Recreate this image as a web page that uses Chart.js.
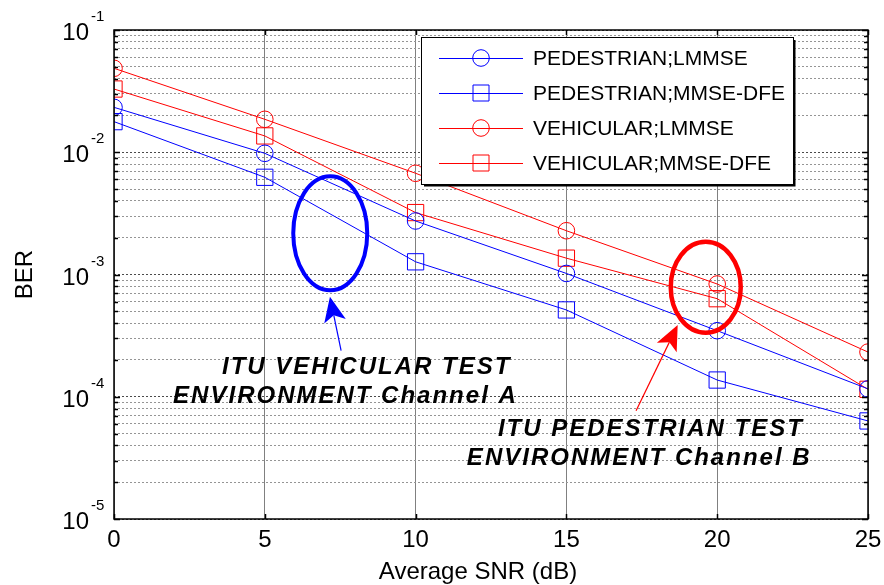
<!DOCTYPE html>
<html>
<head>
<meta charset="utf-8">
<script src="https://cdn.jsdelivr.net/npm/chart.js@4/dist/chart.umd.min.js"></script>
<style>
  html, body { margin: 0; padding: 0; background: #ffffff; }
  #wrap { width: 884px; height: 585px; position: relative; }
</style>
</head>
<body>
<div id="wrap"><canvas id="c" width="884" height="585"></canvas></div>
<script>
// ---- data ----
const snr = [0, 5, 10, 15, 20, 25];
const pedLmmse   = [0.0233, 0.0098, 0.00274, 0.00102, 0.000347, 0.000116];
const pedMmseDfe = [0.0178, 0.00624, 0.00127, 0.000513, 0.000137, 0.0000634];
const vehLmmse   = [0.0486, 0.0186, 0.00673, 0.00228, 0.000836, 0.000232];
const vehMmseDfe = [0.0329, 0.0136, 0.00321, 0.00136, 0.000634, 0.000115];
const seriesNames = ['PEDESTRIAN;LMMSE', 'PEDESTRIAN;MMSE-DFE', 'VEHICULAR;LMMSE', 'VEHICULAR;MMSE-DFE'];
const xTicks = [0, 5, 10, 15, 20, 25];
const yDecadeExps = [-5, -4, -3, -2, -1];
const yTickLabels = ['10', '10', '10', '10', '10'];
const yTickSups = ['-5', '-4', '-3', '-2', '-1'];
const xTitle = 'Average SNR (dB)';
const yTitle = 'BER';

// gridline values of the log axis (1..9 x 10^n)
const yGridValues = [];
for (let e = -5; e < -1; e++) {
  for (let m = 1; m <= 9; m++) yGridValues.push(Number((m * Math.pow(10, e)).toPrecision(3)));
}
yGridValues.push(0.1);

// ---- annotations (data coordinates) ----
const ellipses = [
  { x: 7.17, y: 2.17e-3, rx: 37, ry: 57, color: '#0000ff', width: 4 },
  { x: 19.62, y: 7.87e-4, rx: 35, ry: 45.5, color: '#ff0000', width: 4.5 }
];
const arrows = [
  { x0: 7.53, y0: 2.38e-4, x1: 7.16, y1: 6.58e-4, color: '#0000ff' },
  { x0: 17.31, y0: 7.69e-5, x1: 18.69, y1: 3.86e-4, color: '#ff0000' }
];
const notes = [
  { text: 'ITU VEHICULAR TEST', x: 3.58, y: 1.535e-4 },
  { text: 'ENVIRONMENT Channel A', x: 1.96, y: 8.93e-5 },
  { text: 'ITU PEDESTRIAN TEST', x: 12.73, y: 4.78e-5 },
  { text: 'ENVIRONMENT Channel B', x: 11.70, y: 2.77e-5 }
];

const BLUE = '#0000ff', RED = '#ff0000';
const SANS = "'Liberation Sans', Arial, sans-serif";

function mk(label, vals, color, style) {
  return {
    label: label,
    data: snr.map((x, i) => ({ x: x, y: vals[i] })),
    borderColor: color,
    borderWidth: 1,
    backgroundColor: 'rgba(0,0,0,0)',
    pointStyle: style,
    pointRadius: style === 'rect' ? 11.5 : 8.3,
    pointBorderColor: color,
    pointBackgroundColor: 'rgba(0,0,0,0)',
    pointBorderWidth: 1,
    tension: 0,
    fill: false
  };
}

const isDecade = v => Math.abs(Math.log10(v) - Math.round(Math.log10(v))) < 1e-6;

const decorPlugin = {
  id: 'decor',
  afterDatasetsDraw(chart) {
    const ctx = chart.ctx, ca = chart.chartArea;
    const xs = chart.scales.x, ys = chart.scales.y;
    // inward tick marks
    ctx.save();
    ctx.strokeStyle = '#000';
    ctx.lineWidth = 1.5;
    ctx.beginPath();
    ys.ticks.forEach(t => {
      const py = Math.round(ys.getPixelForValue(t.value)) + 0.5;
      const len = t.major ? 6 : 4;
      ctx.moveTo(ca.left, py); ctx.lineTo(ca.left + len, py);
      ctx.moveTo(ca.right, py); ctx.lineTo(ca.right - len, py);
    });
    xs.ticks.forEach(t => {
      const px = Math.round(xs.getPixelForValue(t.value)) + 0.5;
      ctx.moveTo(px, ca.top); ctx.lineTo(px, ca.top + 5);
      ctx.moveTo(px, ca.bottom); ctx.lineTo(px, ca.bottom - 5);
    });
    ctx.stroke();
    // axes box
    ctx.lineWidth = 1.5;
    ctx.strokeRect(ca.left, ca.top, ca.right - ca.left, ca.bottom - ca.top);
    ctx.restore();

    // legend
    const lx = ca.right - 447, ly = ca.top + 7, lw = 372, lh = 147;
    ctx.save();
    ctx.fillStyle = '#fff';
    ctx.fillRect(lx, ly, lw, lh);
    ctx.strokeStyle = '#000';
    ctx.lineWidth = 1;
    ctx.strokeRect(lx + 0.5, ly + 0.5, lw, lh);
    ctx.lineWidth = 2;
    ctx.beginPath();
    ctx.moveTo(lx + lw + 1.5, ly + 3); ctx.lineTo(lx + lw + 1.5, ly + lh + 1.5); ctx.lineTo(lx + 3, ly + lh + 1.5);
    ctx.stroke();
    ctx.font = '21px ' + SANS;
    ctx.textBaseline = 'middle';
    ctx.textAlign = 'left';
    chart.data.datasets.forEach((ds, i) => {
      const ry = ly + 21 + i * 35;
      ctx.strokeStyle = ds.borderColor;
      ctx.lineWidth = 1;
      ctx.beginPath();
      ctx.moveTo(lx + 18, ry + 0.5); ctx.lineTo(lx + 102, ry + 0.5);
      ctx.stroke();
      const mx = lx + 60;
      ctx.beginPath();
      if (ds.pointStyle === 'rect') {
        ctx.rect(mx - 8, ry - 8, 16, 16);
      } else {
        ctx.arc(mx, ry, 8.3, 0, Math.PI * 2);
      }
      ctx.stroke();
      ctx.fillStyle = '#000';
      ctx.fillText(ds.label, lx + 112, ry + 1);
    });
    ctx.restore();
  },
  afterDraw(chart) {
    const ctx = chart.ctx, ca = chart.chartArea;
    const xs = chart.scales.x, ys = chart.scales.y;
    // y tick labels with superscript exponents
    ctx.save();
    ctx.fillStyle = '#000';
    ctx.textBaseline = 'alphabetic';
    yDecadeExps.forEach((e, i) => {
      const py = ys.getPixelForValue(Math.pow(10, e));
      ctx.font = '24px ' + SANS;
      ctx.textAlign = 'right';
      ctx.fillText(yTickLabels[i], ca.left - 25, py + 10);
      ctx.font = '15px ' + SANS;
      ctx.textAlign = 'left';
      ctx.fillText(yTickSups[i], ca.left - 23, py - 9);
    });
    // x axis title
    ctx.font = '24px ' + SANS;
    ctx.textAlign = 'center';
    ctx.textBaseline = 'middle';
    ctx.fillText(xTitle, (ca.left + ca.right) / 2 - 13, ca.bottom + 53);
    ctx.restore();

    // ellipses
    ellipses.forEach(el => {
      ctx.save();
      ctx.strokeStyle = el.color;
      ctx.lineWidth = el.width;
      ctx.beginPath();
      ctx.ellipse(xs.getPixelForValue(el.x), ys.getPixelForValue(el.y), el.rx, el.ry, 0, 0, Math.PI * 2);
      ctx.stroke();
      ctx.restore();
    });
    // arrows
    arrows.forEach(a => {
      const x0 = xs.getPixelForValue(a.x0), y0 = ys.getPixelForValue(a.y0);
      const x1 = xs.getPixelForValue(a.x1), y1 = ys.getPixelForValue(a.y1);
      const ang = Math.atan2(y1 - y0, x1 - x0);
      const L = 25, W = 11, back = 19;
      ctx.save();
      ctx.strokeStyle = a.color;
      ctx.fillStyle = a.color;
      ctx.lineWidth = 1.2;
      ctx.beginPath();
      ctx.moveTo(x0, y0);
      ctx.lineTo(x1 - Math.cos(ang) * back, y1 - Math.sin(ang) * back);
      ctx.stroke();
      ctx.translate(x1, y1);
      ctx.rotate(ang);
      ctx.beginPath();
      ctx.moveTo(0, 0);
      ctx.lineTo(-L, -W);
      ctx.lineTo(-back, 0);
      ctx.lineTo(-L, W);
      ctx.closePath();
      ctx.fill();
      ctx.restore();
    });
    // text notes
    ctx.save();
    ctx.fillStyle = '#000';
    ctx.font = 'italic bold 24px ' + SANS;
    ctx.textAlign = 'left';
    ctx.textBaseline = 'alphabetic';
    if ('letterSpacing' in ctx) ctx.letterSpacing = '2px';
    notes.forEach(n => {
      ctx.fillText(n.text, xs.getPixelForValue(n.x), ys.getPixelForValue(n.y));
    });
    ctx.restore();
  }
};

new Chart(document.getElementById('c'), {
  type: 'line',
  data: {
    datasets: [
      mk(seriesNames[0], pedLmmse, BLUE, 'circle'),
      mk(seriesNames[1], pedMmseDfe, BLUE, 'rect'),
      mk(seriesNames[2], vehLmmse, RED, 'circle'),
      mk(seriesNames[3], vehMmseDfe, RED, 'rect')
    ]
  },
  options: {
    responsive: false,
    animation: false,
    devicePixelRatio: 1,
    layout: { padding: { left: 0, top: 30, right: 16, bottom: 0 } },
    plugins: { legend: { display: false }, tooltip: { enabled: false } },
    scales: {
      x: {
        type: 'linear',
        min: 0, max: 25,
        afterBuildTicks: s => { s.ticks = xTicks.map(v => ({ value: v })); },
        afterFit: s => { s.height = 66; s.paddingLeft = 0; s.paddingRight = 0; },
        ticks: {
          color: '#000',
          font: { family: SANS, size: 24 },
          padding: 7,
          maxRotation: 0,
          autoSkip: false
        },
        grid: { color: '#808080', lineWidth: 1, drawTicks: false },
        border: { display: false },
        title: { display: false }
      },
      y: {
        type: 'logarithmic',
        min: 1e-5, max: 1e-1,
        afterBuildTicks: s => { s.ticks = yGridValues.map(v => ({ value: v, major: isDecade(v) })); },
        afterFit: s => { s.width = 114; },
        ticks: { display: false },
        grid: {
          color: c => (c.tick && c.tick.major) ? '#4a4a4a' : '#959595',
          lineWidth: 1,
          drawTicks: false
        },
        border: { display: false, dash: [2, 2] },
        title: {
          display: true, text: yTitle, color: '#000',
          font: { family: SANS, size: 24, lineHeight: 1 },
          padding: { top: 13, bottom: 0 }
        }
      }
    }
  },
  plugins: [decorPlugin]
});
</script>
</body>
</html>
